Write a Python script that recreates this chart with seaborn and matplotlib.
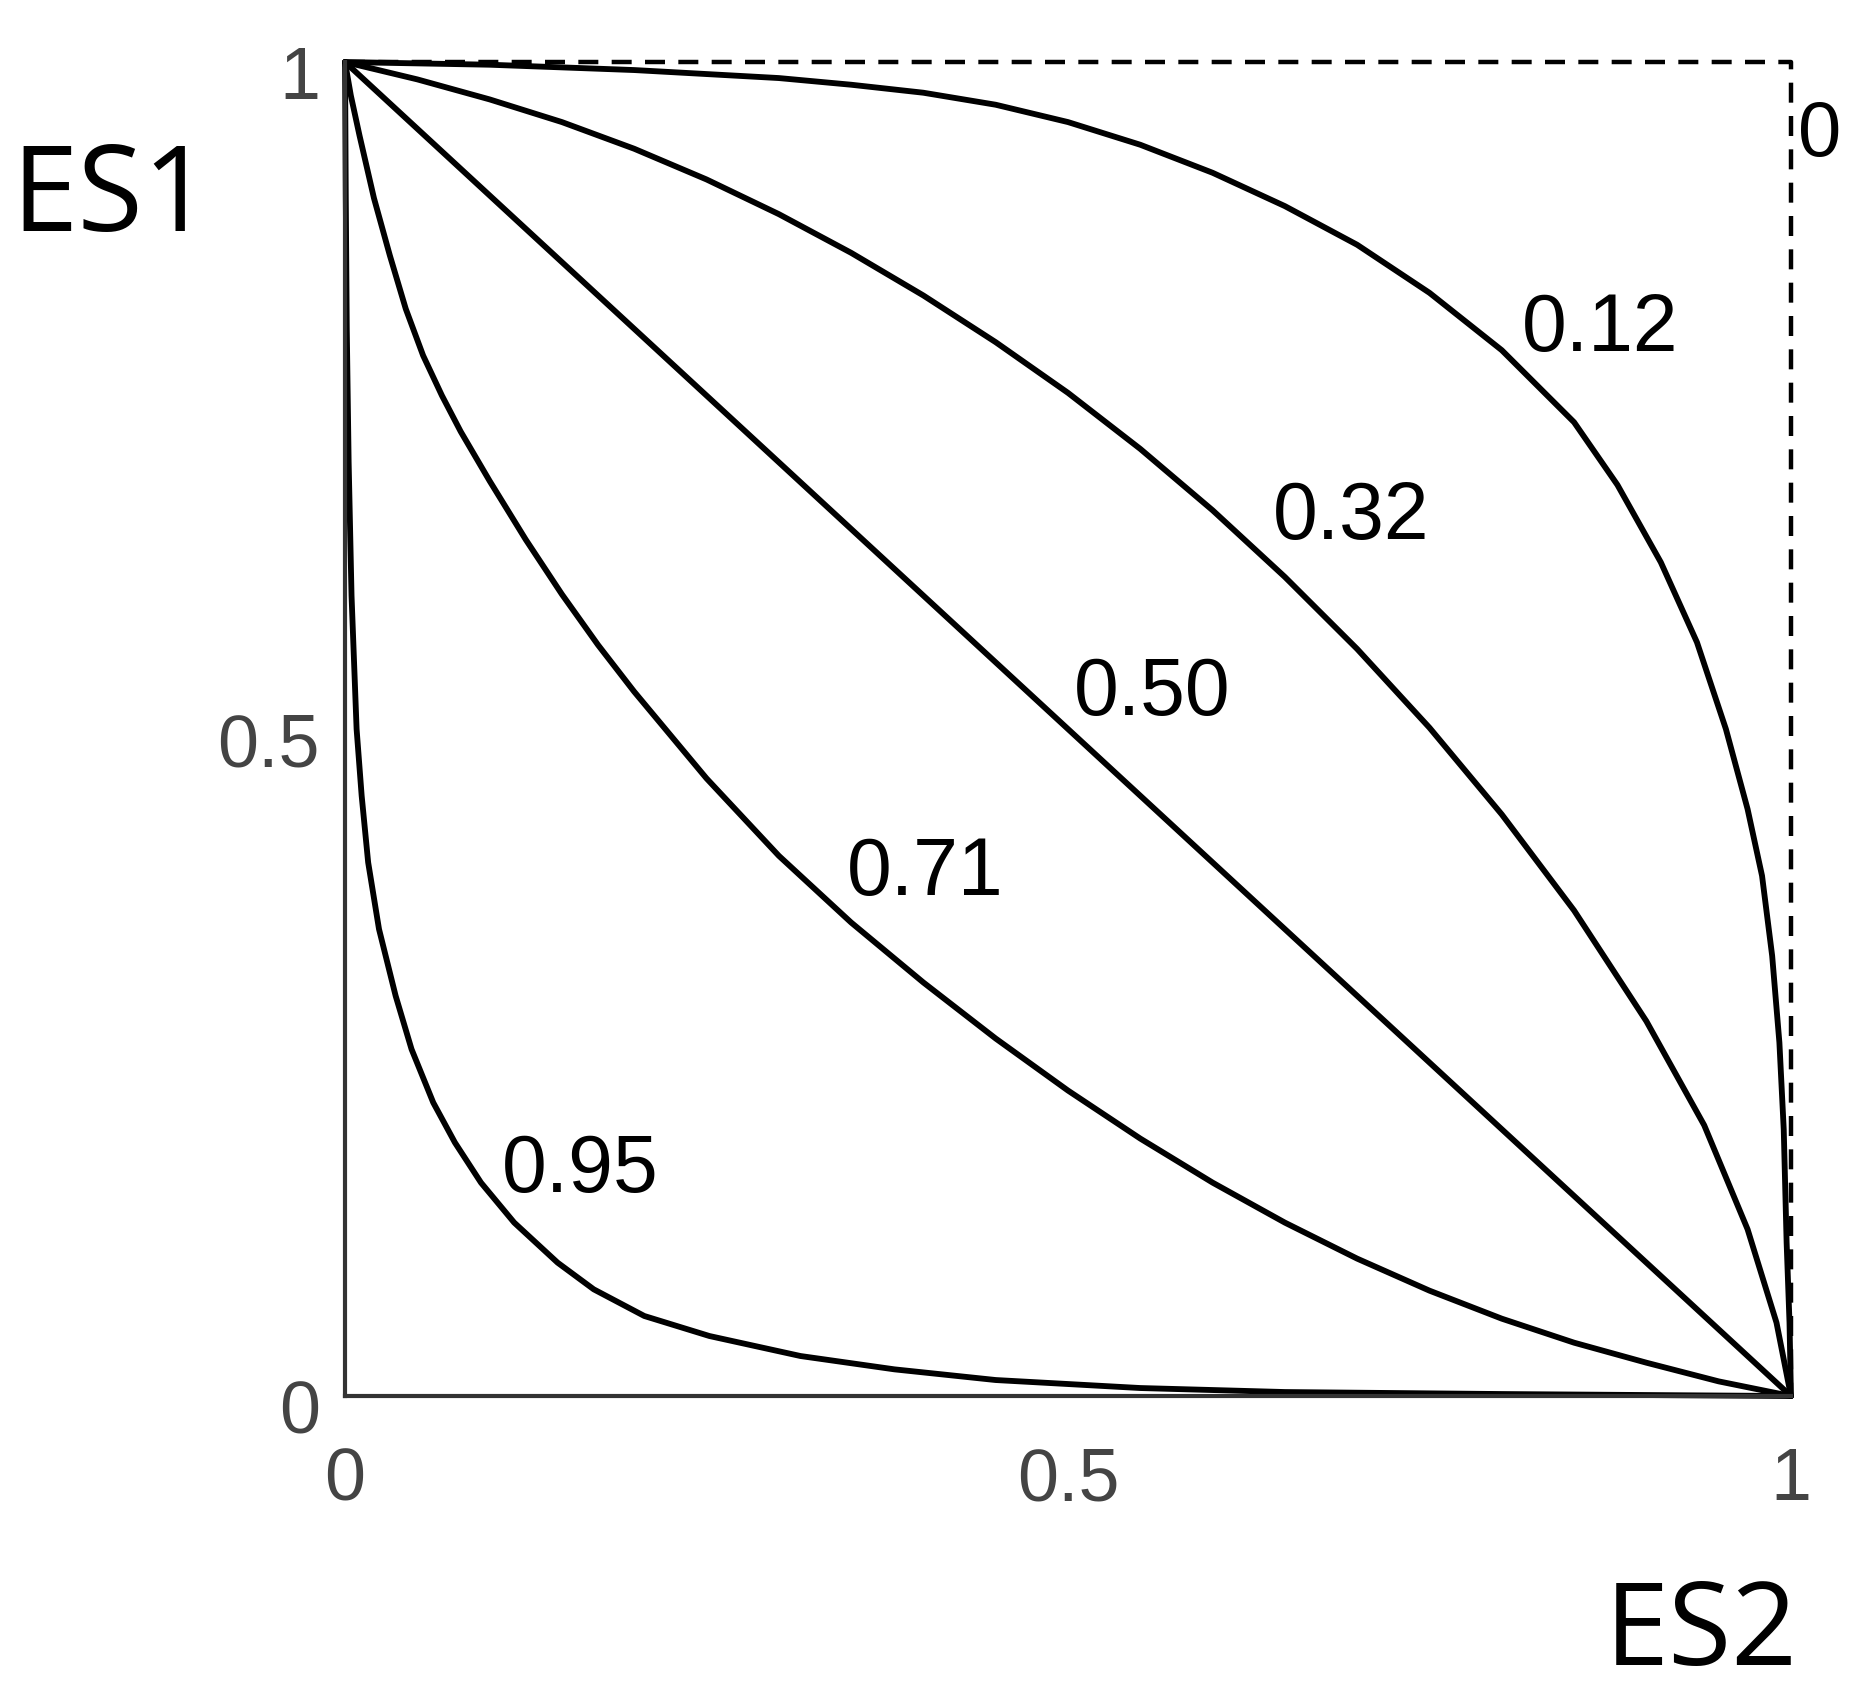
import numpy as np
import pandas as pd
import matplotlib
matplotlib.use("Agg")
import matplotlib.pyplot as plt
import matplotlib.transforms as mtransforms
import seaborn as sns

# --- data (ES2 on x, ES1 on y) ---
labels = ["0.12", "0.32", "0.50", "0.71", "0.95"]

es2_012 = [0.0, 0.10, 0.20, 0.30, 0.35, 0.40, 0.45, 0.50, 0.55, 0.60, 0.65, 0.70, 0.75,
           0.80, 0.85, 0.88, 0.91, 0.935, 0.955, 0.970, 0.980, 0.987, 0.992, 0.995,
           0.997, 0.999, 1.0]
es1_012 = [1.0, 0.998, 0.994, 0.988, 0.983, 0.977, 0.968, 0.955, 0.938, 0.917, 0.892, 0.863,
           0.827, 0.784, 0.730, 0.683, 0.625, 0.565, 0.500, 0.440, 0.390, 0.330, 0.265,
           0.200, 0.115, 0.055, 0.0]

es2_032 = [0.0, 0.05, 0.10, 0.15, 0.20, 0.25, 0.30, 0.35, 0.40, 0.45, 0.50, 0.55, 0.60,
           0.65, 0.70, 0.75, 0.80, 0.85, 0.90, 0.94, 0.97, 0.99, 1.0]
es1_032 = [1.0, 0.987, 0.972, 0.955, 0.935, 0.912, 0.886, 0.857, 0.825, 0.790, 0.752, 0.710,
           0.664, 0.614, 0.560, 0.501, 0.436, 0.364, 0.281, 0.203, 0.125, 0.055, 0.0]

es2_050 = [0.0, 0.25, 0.5, 0.75, 1.0]
es1_050 = [1.0, 0.75, 0.5, 0.25, 0.0]

es2_071 = [0.0, 0.004, 0.010, 0.020, 0.031, 0.042, 0.054, 0.067, 0.08, 0.10, 0.125, 0.15,
           0.175, 0.20, 0.25, 0.30, 0.35, 0.40, 0.45, 0.50, 0.55, 0.60, 0.65, 0.70, 0.75,
           0.80, 0.85, 0.90, 0.95, 1.0]
es1_071 = [1.0, 0.975, 0.945, 0.898, 0.855, 0.815, 0.780, 0.750, 0.723, 0.686, 0.642, 0.601,
           0.563, 0.528, 0.463, 0.405, 0.355, 0.310, 0.268, 0.229, 0.193, 0.160, 0.130,
           0.103, 0.079, 0.058, 0.040, 0.025, 0.011, 0.0]

es2_095 = [0.0, 0.0005, 0.0012, 0.0025, 0.0045, 0.008, 0.0115, 0.016, 0.0235, 0.035, 0.046,
           0.061, 0.076, 0.094, 0.117, 0.147, 0.172, 0.207, 0.252, 0.315, 0.38, 0.45, 0.55,
           0.65, 0.8, 1.0]
es1_095 = [1.0, 0.9, 0.8, 0.7, 0.6, 0.5, 0.45, 0.40, 0.35, 0.30, 0.26, 0.22, 0.19, 0.16,
           0.13, 0.10, 0.08, 0.06, 0.045, 0.03, 0.02, 0.012, 0.006, 0.003, 0.0015, 0.0]

# the "0" case runs along the top and right edges
es2_0 = [0.0, 1.0, 1.0]
es1_0 = [1.0, 1.0, 0.0]

# label anchor points (data coords)
label_x = [0.868, 0.696, 0.558, 0.401, 0.163]
label_y = [0.799, 0.658, 0.526, 0.391, 0.169]

ticks = [0, 0.5, 1]
tick_labels = ["0", "0.5", "1"]

curves = [(es2_012, es1_012), (es2_032, es1_032), (es2_050, es1_050),
          (es2_071, es1_071), (es2_095, es1_095)]

sns.set_style("white")
plt.rcParams["font.family"] = ["Liberation Sans", "DejaVu Sans"]

fig = plt.figure(figsize=(18.59, 17), dpi=100)
ax = fig.add_axes([0.1856, 0.1788, 0.7778, 0.7847])

for xs, ys in curves:
    sns.lineplot(x=xs, y=ys, sort=False, estimator=None, color="black", ax=ax)
    ln = ax.lines[-1]
    ln.set_linewidth(4.2)
    ln.set_solid_joinstyle("round")
    ln.set_clip_on(False)

sns.lineplot(x=es2_0, y=es1_0, sort=False, estimator=None, color="black", ax=ax)
ln = ax.lines[-1]
ln.set_linewidth(3.2)
ln.set_dashes([4.5, 3])
ln.set_clip_on(False)

for lab, lx, ly in zip(labels, label_x, label_y):
    ax.text(lx, ly, lab, fontsize=58, ha="center", va="center", color="black")
ax.text(1.02, 0.945, "0", fontsize=56, ha="center", va="center", color="black", clip_on=False)

ax.set_xlim(0, 1)
ax.set_ylim(0, 1)
ax.set_xticks(ticks)
ax.set_yticks(ticks)
ax.set_xticklabels(tick_labels)
ax.set_yticklabels(tick_labels)
ax.tick_params(axis="both", direction="in", length=8, width=2, colors="#333333",
               labelsize=53, labelcolor="#444444")
ax.tick_params(axis="x", pad=36)
ax.tick_params(axis="y", pad=18)

# y tick labels sit a little below their ticks in the reference
shift = mtransforms.ScaledTranslation(0, -0.1, fig.dpi_scale_trans)
for t in ax.get_yticklabels():
    t.set_transform(t.get_transform() + shift)

for side in ["top", "right"]:
    ax.spines[side].set_visible(False)
for side in ["left", "bottom"]:
    ax.spines[side].set_color("#333333")
    ax.spines[side].set_linewidth(3)

fig.text(0.060, 0.882, "ES1", fontsize=86, family=["Open Sans", "DejaVu Sans"],
         ha="center", va="center", color="black")
fig.text(0.915, 0.038, "ES2", fontsize=83, family=["Open Sans", "DejaVu Sans"],
         ha="center", va="center", color="black")

fig.savefig("out.png", dpi=100)
